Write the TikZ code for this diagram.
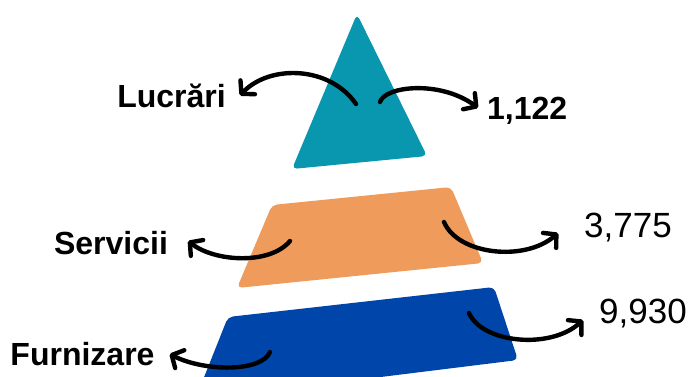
\documentclass[tikz,border=0pt]{standalone}
\usepackage{fontspec}
\setmainfont{Liberation Sans}
\usepackage{tikz}
\usetikzlibrary{arrows.meta}

\definecolor{turchese}{RGB}{8,151,174}
\definecolor{arancio}{RGB}{238,155,92}
\definecolor{bluscuro}{RGB}{0,70,170}

\begin{document}
\begin{tikzpicture}[x=1pt, y=-1pt,
    freccia/.style={line width=4.4pt, line cap=round,
        -{Straight Barb[round, length=9pt, width=20pt]}},
    etichetta/.style={inner sep=0pt, anchor=base, font=\bfseries\fontsize{32}{38}\selectfont},
    valore/.style={inner sep=0pt, anchor=base west, font=\fontsize{35}{40}\selectfont}]
        % Area del disegno
        \useasboundingbox (0,0) rectangle (694,376);
        \clip (0,0) rectangle (694,376);

        % Livello superiore (triangolo)
        \fill[turchese, rounded corners=5pt]
        (357,14) -- (427,156) -- (292,169) -- cycle;

        % Livello centrale
        \fill[arancio, rounded corners=5pt]
        (272,205) -- (451,187) -- (483,263) -- (237,288) -- cycle;

        % Livello inferiore (esce dal bordo)
        \fill[bluscuro, rounded corners=5pt]
        (228,317) -- (494,287) -- (518,360) -- (195,400) -- cycle;

        % Etichette a sinistra
        \node[etichetta] (lucrari) at (171.5,107) {Lucrări};
        \node[etichetta] (servicii) at (111,254.5) {Servicii};
        \node[etichetta] (furnizare) at (82.5,365.5) {Furnizare};

        % Valori a destra
        \node[valore, font=\bfseries\fontsize{32}{38}\selectfont] (val1) at (487,119.5) {1,122};
        \node[valore] (val2) at (584,237) {3,775};
        \node[valore] (val3) at (599,323) {9,930};

        % Punti di partenza delle frecce
        \coordinate (p1) at (356,104);
        \coordinate (p2) at (380,102);
        \coordinate (p3) at (290,241);
        \coordinate (p4) at (444,222);
        \coordinate (p5) at (270,352);
        \coordinate (p6) at (469,313);

        % Frecce
        \draw[freccia] (p1) .. controls (330,66) and (270,64) .. ([xshift=14pt]lucrari.east);
        \draw[freccia] (p2) .. controls (385,86) and (440,80) .. ([xshift=-9pt,yshift=3pt]val1.west);
        \draw[freccia] (p3) .. controls (270,265) and (215,262) .. ([xshift=20pt,yshift=2pt]servicii.east);
        \draw[freccia] (p4) .. controls (458,255) and (525,262) .. ([xshift=-26pt,yshift=-6pt]val2.west);
        \draw[freccia] (p5) .. controls (262,372) and (205,372) .. ([xshift=15pt]furnizare.east);
        \draw[freccia] (p6) .. controls (482,343) and (550,350) .. ([xshift=-16pt,yshift=-7pt]val3.west);

\end{tikzpicture}
\end{document}
